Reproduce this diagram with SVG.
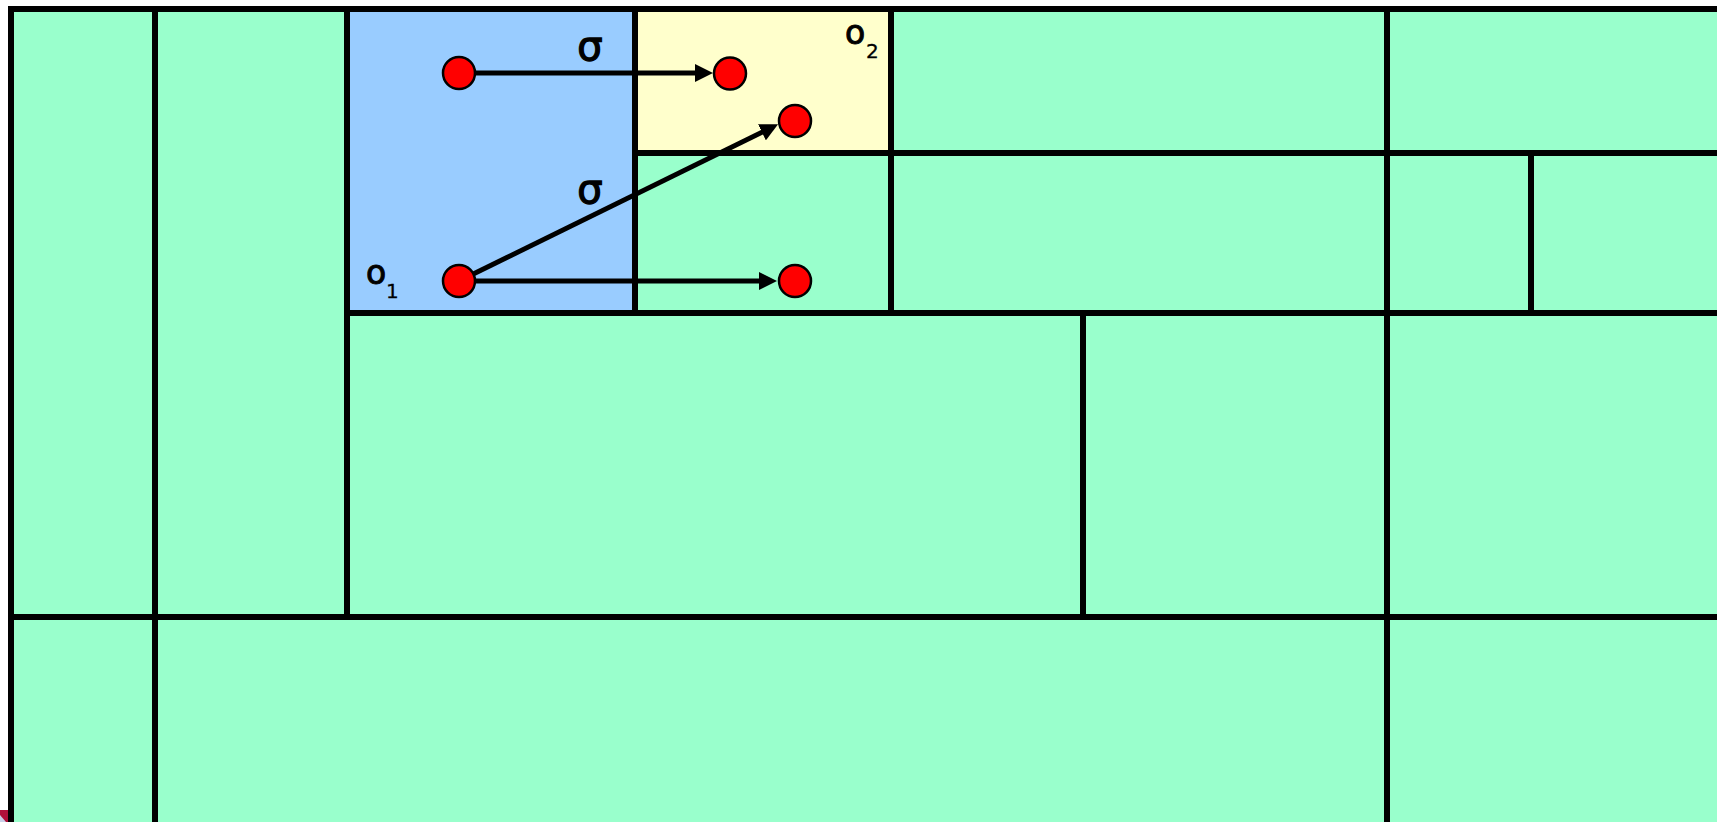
<svg xmlns="http://www.w3.org/2000/svg" width="1717" height="822" viewBox="0 0 1717 822">
<style>
.grid{stroke:#000;stroke-width:6;stroke-linecap:square;fill:none}
.conn{stroke:#000;stroke-width:5;fill:none}
.pt{fill:#ff0000;stroke:#000;stroke-width:2.5}
.lbl{font-family:"DejaVu Sans","Liberation Sans",sans-serif;fill:#000;stroke:#000;stroke-width:1}
.sig{stroke-width:1.3}
.sub{stroke-width:0.3}
</style>
<defs>
<marker id="ah" markerUnits="userSpaceOnUse" markerWidth="18" markerHeight="18" refX="9" refY="9" orient="auto">
<path d="M0,0 L18,9 L0,18 z" fill="#000"/>
</marker>
</defs>
<rect x="0" y="0" width="1717" height="822" fill="#fff"/>
<g id="regions">
<rect x="11" y="9" width="1706" height="813" fill="#99ffcc"/>
<rect id="o1-region" x="347" y="9" width="288" height="304" fill="#99ccff"/>
<rect id="o2-region" x="635" y="9" width="256" height="144" fill="#ffffcc"/>
</g>
<g id="grid-lines" class="grid">
<line x1="11" y1="9" x2="1717" y2="9"/>
<line x1="11" y1="9" x2="11" y2="825"/>
<line x1="155" y1="9" x2="155" y2="825"/>
<line x1="347" y1="9" x2="347" y2="617"/>
<line x1="635" y1="9" x2="635" y2="313"/>
<line x1="891" y1="9" x2="891" y2="313"/>
<line x1="1387" y1="9" x2="1387" y2="825"/>
<line x1="1531" y1="153" x2="1531" y2="313"/>
<line x1="1083" y1="313" x2="1083" y2="617"/>
<line x1="635" y1="153" x2="1720" y2="153"/>
<line x1="347" y1="313" x2="1720" y2="313"/>
<line x1="11" y1="617" x2="1720" y2="617"/>
</g>
<g id="corner-fragment">
<rect x="0" y="810" width="8" height="12" fill="#b0103a"/>
<polygon points="0,815 6,822 0,822" fill="#c8d0e8"/>
</g>
<g id="connectors">
<line class="conn" x1="459" y1="73" x2="704" y2="73" marker-end="url(#ah)"/>
<line class="conn" x1="459" y1="281" x2="768" y2="281" marker-end="url(#ah)"/>
<line class="conn" x1="459" y1="281" x2="770" y2="128.3" marker-end="url(#ah)"/>
</g>
<g id="p1"><circle class="pt" cx="459" cy="73" r="16"/></g>
<g id="p2"><circle class="pt" cx="730" cy="73.5" r="16"/></g>
<g id="p3"><circle class="pt" cx="795" cy="121" r="16"/></g>
<g id="p4"><circle class="pt" cx="459" cy="281" r="16"/></g>
<g id="p5"><circle class="pt" cx="795" cy="281" r="16"/></g>
<g id="labels" class="lbl">
<text class="sig" x="590" y="60" font-size="40" text-anchor="middle">σ</text>
<text class="sig" x="590" y="203" font-size="40" text-anchor="middle">σ</text>
<text x="366" y="284" font-size="33">o</text>
<text class="sub" x="386" y="298" font-size="20">1</text>
<text x="845" y="44" font-size="33">o</text>
<text class="sub" x="866" y="58" font-size="20">2</text>
</g>
</svg>
